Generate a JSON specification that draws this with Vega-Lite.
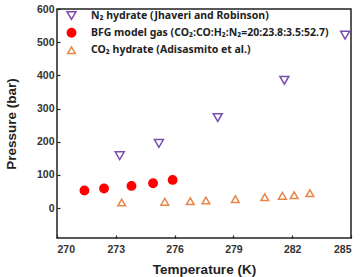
{
  "$schema": "https://vega.github.io/schema/vega-lite/v6.json",
  "width": 294,
  "height": 229,
  "autosize": "none",
  "padding": {"left": 57, "top": 9, "right": 10, "bottom": 39},
  "background": "white",
  "config": {
    "view": {"stroke": "#222", "strokeWidth": 1.5},
    "axis": {
      "labelFont": "Liberation Sans", "labelFontWeight": "bold", "labelFontSize": 10.5, "labelColor": "#333",
      "titleFont": "Liberation Sans", "titleFontWeight": "bold", "titleFontSize": 13.5, "titleColor": "#222",
      "grid": false, "domain": false, "tickColor": "#222", "tickSize": -3, "tickWidth": 1.2
    }
  },
  "data": {
    "values": [
      {"series": "N₂ hydrate (Jhaveri and Robinson)", "T": 273.2, "P": 158},
      {"series": "N₂ hydrate (Jhaveri and Robinson)", "T": 275.2, "P": 195},
      {"series": "N₂ hydrate (Jhaveri and Robinson)", "T": 278.2, "P": 273},
      {"series": "N₂ hydrate (Jhaveri and Robinson)", "T": 281.6, "P": 385},
      {"series": "N₂ hydrate (Jhaveri and Robinson)", "T": 284.7, "P": 521},
      {"series": "BFG model gas (CO₂:CO:H₂:N₂=20:23.8:3.5:52.7)", "T": 271.4, "P": 53},
      {"series": "BFG model gas (CO₂:CO:H₂:N₂=20:23.8:3.5:52.7)", "T": 272.4, "P": 59},
      {"series": "BFG model gas (CO₂:CO:H₂:N₂=20:23.8:3.5:52.7)", "T": 273.8, "P": 67},
      {"series": "BFG model gas (CO₂:CO:H₂:N₂=20:23.8:3.5:52.7)", "T": 274.9, "P": 75},
      {"series": "BFG model gas (CO₂:CO:H₂:N₂=20:23.8:3.5:52.7)", "T": 275.9, "P": 85},
      {"series": "CO₂  hydrate (Adisasmito et al.)", "T": 273.3, "P": 17},
      {"series": "CO₂  hydrate (Adisasmito et al.)", "T": 275.5, "P": 19},
      {"series": "CO₂  hydrate (Adisasmito et al.)", "T": 276.8, "P": 21},
      {"series": "CO₂  hydrate (Adisasmito et al.)", "T": 277.6, "P": 23},
      {"series": "CO₂  hydrate (Adisasmito et al.)", "T": 279.1, "P": 27},
      {"series": "CO₂  hydrate (Adisasmito et al.)", "T": 280.6, "P": 33},
      {"series": "CO₂  hydrate (Adisasmito et al.)", "T": 281.5, "P": 37},
      {"series": "CO₂  hydrate (Adisasmito et al.)", "T": 282.1, "P": 39},
      {"series": "CO₂  hydrate (Adisasmito et al.)", "T": 282.9, "P": 45}
    ]
  },
  "mark": {"type": "point", "filled": false, "strokeWidth": 1.5, "opacity": 1},
  "encoding": {
    "x": {
      "field": "T", "type": "quantitative",
      "scale": {"domain": [270, 285], "nice": false, "zero": false},
      "axis": {"values": [270, 273, 276, 279, 282, 285], "title": "Temperature (K)", "labelPadding": 9, "titlePadding": 8}
    },
    "y": {
      "field": "P", "type": "quantitative",
      "scale": {"domain": [-90, 600], "nice": false, "zero": false},
      "axis": {"values": [0, 100, 200, 300, 400, 500, 600], "title": "Pressure (bar)", "labelPadding": 6, "titlePadding": 18}
    },
    "stroke": {
      "field": "series", "type": "nominal",
      "scale": {
        "domain": ["N₂ hydrate (Jhaveri and Robinson)", "BFG model gas (CO₂:CO:H₂:N₂=20:23.8:3.5:52.7)", "CO₂  hydrate (Adisasmito et al.)"],
        "range": ["#7a4cb0", "#ff0000", "#e8864a"]
      },
      "legend": {"title": null}
    },
    "fill": {
      "field": "series", "type": "nominal",
      "scale": {
        "domain": ["N₂ hydrate (Jhaveri and Robinson)", "BFG model gas (CO₂:CO:H₂:N₂=20:23.8:3.5:52.7)", "CO₂  hydrate (Adisasmito et al.)"],
        "range": ["transparent", "#ff0000", "transparent"]
      },
      "legend": {"title": null}
    },
    "size": {
      "field": "series", "type": "nominal",
      "scale": {
        "domain": ["N₂ hydrate (Jhaveri and Robinson)", "BFG model gas (CO₂:CO:H₂:N₂=20:23.8:3.5:52.7)", "CO₂  hydrate (Adisasmito et al.)"],
        "range": [80, 60, 80]
      },
      "legend": {"title": null}
    },
    "shape": {
      "field": "series", "type": "nominal",
      "scale": {
        "domain": ["N₂ hydrate (Jhaveri and Robinson)", "BFG model gas (CO₂:CO:H₂:N₂=20:23.8:3.5:52.7)", "CO₂  hydrate (Adisasmito et al.)"],
        "range": ["triangle-down", "circle", "triangle-up"]
      },
      "legend": {
        "title": null, "orient": "none", "legendX": 9, "legendY": 1,
        "labelFont": "Noto Sans", "labelFontWeight": "bold", "labelFontSize": 10.5, "labelColor": "#222",
        "symbolStrokeWidth": 1.5, "rowPadding": 2.5, "labelOffset": 14, "labelLimit": 400
      }
    }
  }
}
